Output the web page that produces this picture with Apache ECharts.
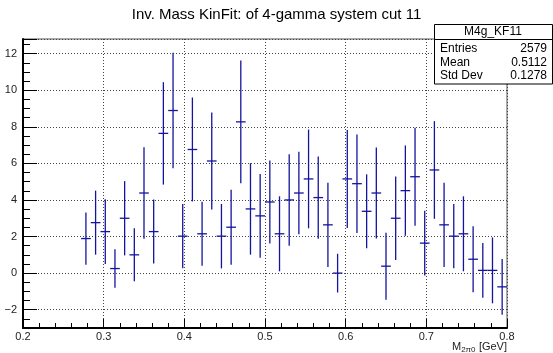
<!DOCTYPE html>
<html><head><meta charset="utf-8">
<script src="https://cdn.jsdelivr.net/npm/echarts@6/dist/echarts.min.js"></script>
<style>html,body{margin:0;padding:0;background:#fff}#c{width:553px;height:353px}</style>
</head><body><div id="c"></div>
<script>
const titleText = 'Inv. Mass KinFit: of 4-gamma system cut 11';
const binWidth = 0.012;
const binCenters = [0.278,0.290,0.302,0.314,0.326,0.338,0.350,0.362,0.374,0.386,0.398,0.410,0.422,0.434,0.446,0.458,0.470,0.482,0.494,0.506,0.518,0.530,0.542,0.554,0.566,0.578,0.590,0.602,0.614,0.626,0.638,0.650,0.662,0.674,0.686,0.698,0.710,0.722,0.734,0.746,0.758,0.770,0.782,0.794];
const counts = [1.89,2.76,2.27,0.25,3.00,1.00,4.38,2.27,7.64,8.89,2.02,6.76,2.15,6.13,2.02,2.51,8.27,3.51,3.13,3.89,2.15,4.00,4.38,5.15,4.13,2.64,0.00,5.15,4.89,3.38,4.38,0.38,3.00,4.51,5.27,1.64,5.64,2.64,2.02,2.15,0.76,0.15,0.15,-0.75];
const errors = [1.43,1.75,1.77,1.05,2.03,1.45,2.50,1.75,2.80,3.16,1.76,2.84,1.75,2.65,1.76,2.05,3.36,2.50,2.29,2.27,2.05,2.50,2.25,2.70,2.25,2.30,1.06,2.68,2.69,2.02,2.49,1.83,2.28,2.47,2.68,1.77,2.67,2.30,1.76,2.05,1.80,1.50,1.80,1.52];
const statsName = 'M4g_KF11';
const statsLabels = ['Entries','Mean','Std Dev'];
const statsValues = ['2579','0.5112','0.1278'];
const xRange = [0.2, 0.8];
const yRange = [-3, 12.8];

const barColor = '#14149e';
const font = 'Liberation Sans, Arial, sans-serif';
const data = binCenters.map((x,i)=>[x, counts[i], errors[i]]);

const chart = echarts.init(document.getElementById('c'), null, {renderer:'canvas'});
const gridStyle = {show:true, lineStyle:{color:'#444', type:[1,2], width:1}};
chart.setOption({
  animation:false,
  backgroundColor:'#fff',
  title:{text:titleText, left:'center', top:2, textStyle:{fontFamily:font, fontSize:15, fontWeight:'normal', color:'#000'}},
  grid:{left:23, right:46, top:39, bottom:25, show:true, borderColor:'#555', borderWidth:1},
  xAxis:{type:'value', min:xRange[0], max:xRange[1], interval:0.1,
    axisLine:{show:true, onZero:false, lineStyle:{color:'#000', width:2}},
    axisTick:{show:true, inside:true, length:9, lineStyle:{color:'#000'}},
    minorTick:{show:true, splitNumber:5, length:5, lineStyle:{color:'#000'}},
    axisLabel:{fontFamily:font, fontSize:11, color:'#222', margin:3, formatter:v=>v.toFixed(1)},
    splitLine:gridStyle},
  yAxis:{type:'value', min:yRange[0], max:yRange[1], splitNumber:8,
    axisLine:{show:true, onZero:false, lineStyle:{color:'#000', width:2}},
    axisTick:{show:true, inside:true, length:14, lineStyle:{color:'#000'}},
    minorTick:{show:true, splitNumber:4, length:7, lineStyle:{color:'#000'}},
    axisLabel:{fontFamily:font, fontSize:11, color:'#222', margin:6, showMinLabel:false, showMaxLabel:false,
      formatter:v=>v<0?'\u2212'+Math.abs(v):String(v)},
    splitLine:gridStyle},
  series:[{type:'custom', data:data, clip:true,
    renderItem:function(params, api){
      const x=api.value(0), y=api.value(1), e=api.value(2);
      const a=api.coord([x,y+e]), b=api.coord([x,y-e]);
      const l=api.coord([x-binWidth/2,y]), r=api.coord([x+binWidth/2,y]);
      return {type:'group', children:[
        {type:'line', shape:{x1:a[0],y1:a[1],x2:b[0],y2:b[1]}, style:{stroke:barColor, lineWidth:1.3}},
        {type:'line', shape:{x1:l[0],y1:l[1],x2:r[0],y2:r[1]}, style:{stroke:barColor, lineWidth:1.3}}
      ]};
    }}],
  graphic:[
    {type:'rect', shape:{x:434.5, y:24.5, width:118, height:59.5}, style:{fill:'#fff', stroke:'#000', lineWidth:1}, z:100},
    {type:'line', shape:{x1:434.5, y1:39.5, x2:552.5, y2:39.5}, style:{stroke:'#000', lineWidth:1}, z:101},
    {type:'text', x:493, y:32, style:{text:statsName, font:'12px '+font, fill:'#000', align:'center', verticalAlign:'middle'}, z:101},
    ...statsLabels.map((t,i)=>({type:'text', x:440, y:49+i*13.5, style:{text:t, font:'12px '+font, fill:'#000', align:'left', verticalAlign:'middle'}, z:101})),
    ...statsValues.map((t,i)=>({type:'text', x:547, y:49+i*13.5, style:{text:t, font:'12px '+font, fill:'#000', align:'right', verticalAlign:'middle'}, z:101})),
    {type:'text', x:507, y:347, style:{text:'{m|M}{s|2\u03c00} {m|[GeV]}', align:'right', verticalAlign:'middle',
      rich:{m:{fontFamily:font, fontSize:11, fill:'#222'}, s:{fontFamily:font, fontSize:8, fill:'#222', padding:[6,0,0,0]}}}, z:101}
  ]
});
</script></body></html>
